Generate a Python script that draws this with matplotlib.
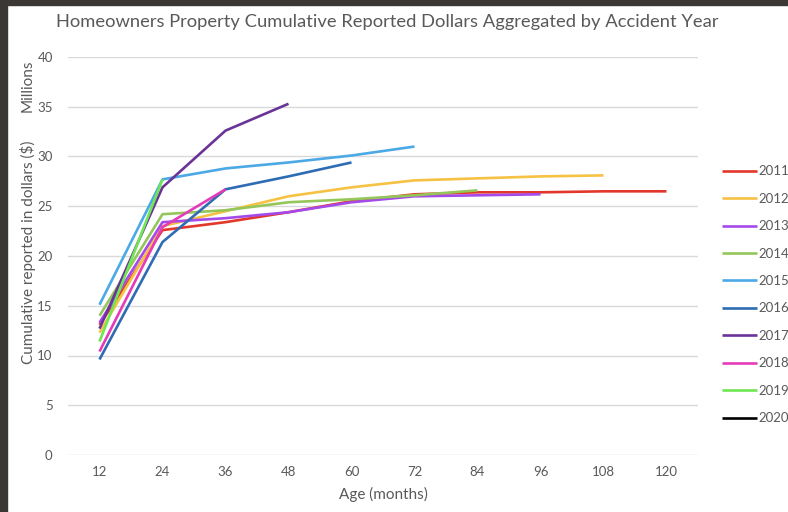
import matplotlib
matplotlib.use("Agg")
import matplotlib.pyplot as plt
from matplotlib.patches import Rectangle

plt.rcParams['font.family'] = ['Lato', 'DejaVu Sans']

ages = [12, 24, 36, 48, 60, 72, 84, 96, 108, 120]
years = ['2011', '2012', '2013', '2014', '2015', '2016', '2017', '2018', '2019', '2020']

# cumulative reported dollars, millions
y2011 = [13.1, 22.6, 23.4, 24.4, 25.5, 26.2, 26.4, 26.4, 26.5, 26.5]
y2012 = [12.3, 23.0, 24.5, 26.0, 26.9, 27.6, 27.8, 28.0, 28.1]
y2013 = [13.3, 23.4, 23.8, 24.4, 25.4, 26.0, 26.1, 26.2]
y2014 = [14.0, 24.2, 24.6, 25.4, 25.7, 26.1, 26.6]
y2015 = [15.1, 27.7, 28.8, 29.4, 30.1, 31.0]
y2016 = [9.6, 21.4, 26.7, 28.0, 29.4]
y2017 = [12.7, 26.9, 32.6, 35.3]
y2018 = [10.4, 22.9, 26.7]
y2019 = [11.4, 27.7]
y2020 = [12.9]

series = [y2011, y2012, y2013, y2014, y2015, y2016, y2017, y2018, y2019, y2020]
colors = ['#e2382b', '#f6c243', '#a54aea', '#94c65a', '#4ba9e6',
          '#2e6cb4', '#6a3397', '#e43bb8', '#6fe653', '#000000']

W, H = 788, 512
fig = plt.figure(figsize=(W / 100, H / 100), dpi=100)
fig.patch.set_facecolor('white')

# dark frame along the top and left edges
frame = '#3b3735'
fig.add_artist(Rectangle((0, 1 - 5 / H), 1, 5 / H, transform=fig.transFigure, color=frame, zorder=10))
fig.add_artist(Rectangle((0, 0), 7 / W, 1, transform=fig.transFigure, color=frame, zorder=10))

left, right, top, bottom = 68, 698, 57, 455
ax = fig.add_axes([left / W, 1 - bottom / H, (right - left) / W, (bottom - top) / H])

handles = []
for name, vals, c in zip(years, series, colors):
    h, = ax.plot(ages[:len(vals)], vals, color=c, lw=1.9, solid_capstyle='butt', label=name)
    handles.append(h)

ax.set_xlim(6, 126)
ax.set_ylim(0, 40)
ax.set_xticks(ages)
ax.set_yticks(range(0, 41, 5))
ax.grid(axis='y', color='#d9d9d9', lw=1)
ax.set_axisbelow(True)
for s in ax.spines.values():
    s.set_visible(False)
ax.tick_params(length=0, labelsize=9.5, colors='#595959')
ax.tick_params(axis='x', pad=8)
ax.tick_params(axis='y', pad=11)

ax.set_xlabel('Age (months)', fontsize=11, color='#595959', labelpad=6)
fig.text(28 / W, 1 - 252 / H, 'Cumulative reported in dollars ($)', rotation=90,
         ha='center', va='center', fontsize=11, color='#595959')
fig.text(28 / W, 1 - 86 / H, 'Millions', rotation=90,
         ha='center', va='center', fontsize=11, color='#595959')

fig.text(387 / W, 1 - 22 / H,
         'Homeowners Property Cumulative Reported Dollars Aggregated by Accident Year',
         ha='center', va='center', fontsize=13.2, color='#595959')

leg = fig.legend(handles=handles, loc='upper left', bbox_to_anchor=(717 / W, 1 - 160 / H),
                 frameon=False, fontsize=9.5, handlelength=2.6, handletextpad=0.15,
                 labelspacing=1.17, borderaxespad=0)
for t in leg.get_texts():
    t.set_color('#595959')

fig.savefig('out.png', dpi=100)
